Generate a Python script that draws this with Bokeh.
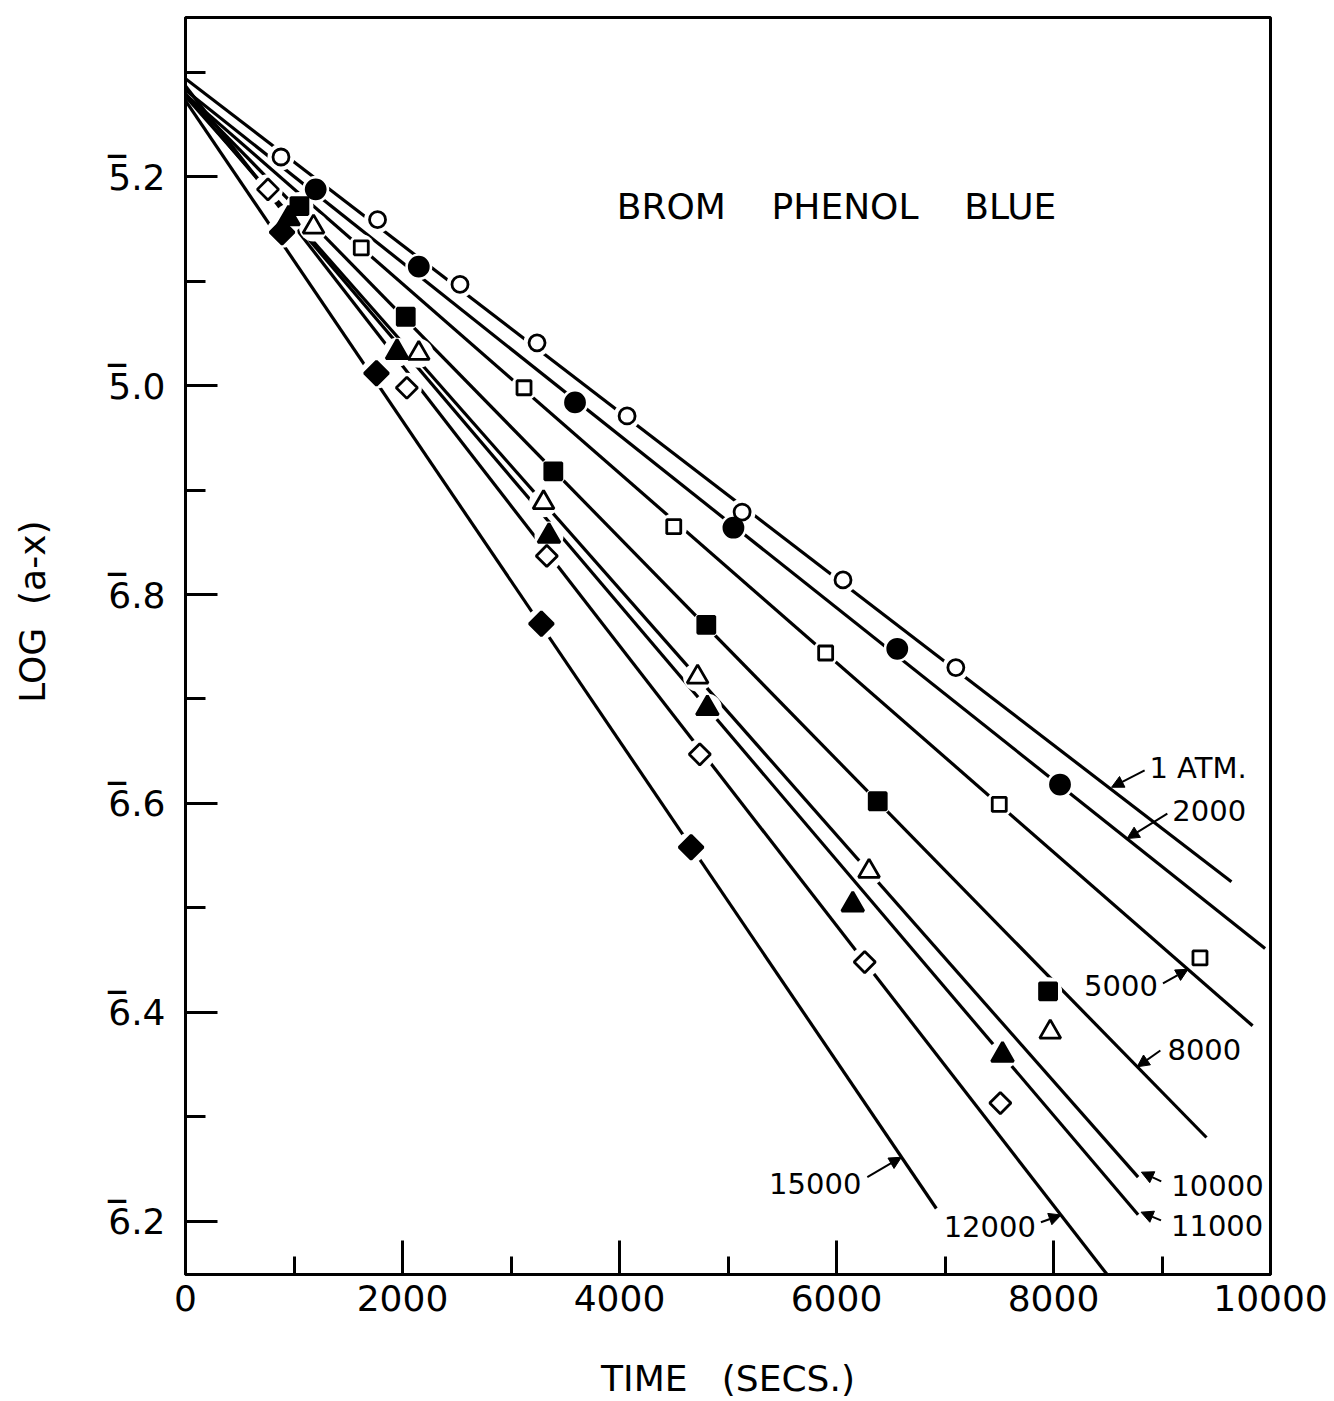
import math
from bokeh.plotting import figure
from bokeh.models import (ColumnDataSource, FixedTicker, CustomJSTickFormatter, Label,
                          Arrow, NormalHead, Range1d, BasicTickFormatter, LinearAxis)
from bokeh.embed import file_html
from bokeh.resources import INLINE
from bokeh.core.properties import value

# ---------------- data (time in s, log(a-x)) ----------------
atm1_t = [880, 1770, 2530, 3240, 4070, 5130, 6060, 7100]
atm1_y = [-4.781, -4.841, -4.903, -4.959, -5.029, -5.121, -5.186, -5.270]
p2000_t = [1200, 2150, 3590, 5050, 6560, 8060]
p2000_y = [-4.812, -4.886, -5.016, -5.136, -5.252, -5.382]
p5000_t = [1620, 3120, 4500, 5900, 7500, 9350]
p5000_y = [-4.868, -5.002, -5.135, -5.256, -5.401, -5.548]
p8000_t = [1050, 2030, 3390, 4800, 6380, 7950]
p8000_y = [-4.828, -4.934, -5.082, -5.229, -5.398, -5.580]
p10000_t = [1180, 2150, 3300, 4720, 6300, 7970]
p10000_y = [-4.848, -4.969, -5.112, -5.279, -5.465, -5.619]
p11000_t = [950, 1950, 3350, 4810, 6150, 7530]
p11000_y = [-4.840, -4.968, -5.144, -5.309, -5.497, -5.641]
p12000_t = [760, 2040, 3330, 4740, 6260, 7510]
p12000_y = [-4.812, -5.002, -5.163, -5.353, -5.552, -5.687]
p15000_t = [890, 1760, 3280, 4660]
p15000_y = [-4.853, -4.988, -5.228, -5.442]

# fitted straight lines (start at t=0)
line_names = ["1 ATM.", "2000", "5000", "8000", "10000", "11000", "12000", "15000"]
line_y0 = [-4.706, -4.717, -4.721, -4.721, -4.723, -4.721, -4.713, -4.727]
line_t1 = [9640, 9950, 9835, 9410, 8780, 8780, 8500, 6920]
line_y1 = [-5.475, -5.539, -5.613, -5.720, -5.758, -5.794, -5.852, -5.788]

# axis ticks (bar notation: 5-bar.2 = -4.8 ... 6-bar.2 = -5.8)
x_major = [0, 2000, 4000, 6000, 8000, 10000]
x_minor = [1000, 3000, 5000, 7000, 9000]
y_major = [-4.8, -5.0, -5.2, -5.4, -5.6, -5.8]
y_major_labels = ["5.2", "5.0", "6.8", "6.6", "6.4", "6.2"]
y_minor = [-4.7, -4.9, -5.1, -5.3, -5.5, -5.7]

# ---------------- layout of annotations ----------------
ann_tx = [8884, 9095, 8962, 9050, 9086, 9083, 7838, 6229]
ann_ty = [-5.366, -5.407, -5.574, -5.636, -5.766, -5.804, -5.805, -5.764]
ann_align = ["left", "left", "right", "left", "left", "left", "right", "right"]
arrow_x0 = [8840, 9049, 9009, 8985, 8993, 8991, 7884, 6284]
arrow_y0 = [-5.3685, -5.4099, -5.5725, -5.6367, -5.7620, -5.7994, -5.8012, -5.7579]
arrow_x1 = [8535, 8678, 9240, 8771, 8810, 8807, 8070, 6598]
arrow_y1 = [-5.3846, -5.4337, -5.5589, -5.6523, -5.7532, -5.7915, -5.7942, -5.7389]
BAR_SHIFT = 0.0225   # vertical offset (data units) of the characteristic's overbar

FONT = "DejaVu Sans"
NB = "\u00a0"

p = figure(width=1334, height=1401, x_range=Range1d(0, 10000),
           y_range=Range1d(-5.8512, -4.6474),
           output_backend="svg", toolbar_location=None,
           min_border_left=185, min_border_right=64,
           min_border_top=17, min_border_bottom=126)
p.background_fill_color = "white"
p.border_fill_color = "white"
p.outline_line_color = "black"
p.outline_line_width = 3
p.xgrid.visible = False
p.ygrid.visible = False

# axes
p.xaxis.ticker = FixedTicker(ticks=x_major, minor_ticks=x_minor)
p.xaxis.formatter = BasicTickFormatter(use_scientific=False)
p.yaxis.ticker = FixedTicker(ticks=y_major, minor_ticks=y_minor)
p.yaxis.formatter = CustomJSTickFormatter(
    args=dict(vals=y_major, labs=y_major_labels),
    code="""
    for (let i = 0; i < vals.length; i++) {
        if (Math.abs(vals[i] - tick) < 1e-6) { return labs[i]; }
    }
    return "";
    """)
for ax, maj, mnr in ((p.xaxis, 34, 18), (p.yaxis, 32, 20)):
    ax.axis_line_width = 3
    ax.axis_line_color = "black"
    ax.major_tick_in = maj
    ax.major_tick_out = 0
    ax.minor_tick_in = mnr
    ax.minor_tick_out = 0
    ax.major_tick_line_width = 3
    ax.minor_tick_line_width = 3
    ax.major_tick_line_color = "black"
    ax.minor_tick_line_color = "black"
    ax.major_label_text_font = FONT
    ax.major_label_text_font_size = "36px"
    ax.major_label_text_color = "black"
    ax.axis_label_text_font = FONT
    ax.axis_label_text_font_size = "36px"
    ax.axis_label_text_font_style = "normal"
    ax.axis_label_text_color = "black"
p.xaxis.major_label_standoff = 10
p.yaxis.major_label_standoff = 20
p.xaxis.axis_label = "TIME " + NB * 2 + "(SECS.)"
p.xaxis.axis_label_standoff = 44

# outer left axis: draws the bars over the characteristic digit, and the axis title
bar_axis = LinearAxis(
    ticker=FixedTicker(ticks=[v + BAR_SHIFT for v in y_major], minor_ticks=[]),
    formatter=CustomJSTickFormatter(code="return '\u2013';"),
    axis_line_color=None, major_tick_line_color=None, minor_tick_line_color=None,
    major_tick_in=0, major_tick_out=0, minor_tick_in=0, minor_tick_out=0,
    major_label_standoff=-23, major_label_text_font=FONT,
    major_label_text_font_size="46px", major_label_text_color="black",
    axis_label=NB * 6 + "LOG " + NB + "(a-x)", axis_label_standoff=50,
    axis_label_text_font=FONT, axis_label_text_font_size="36px",
    axis_label_text_font_style="normal", axis_label_text_color="black")
p.add_layout(bar_axis, "left")

# lines
lsrc = ColumnDataSource(dict(x0=[0] * len(line_t1), y0=line_y0, x1=line_t1, y1=line_y1))
p.segment(x0="x0", y0="y0", x1="x1", y1="y1", source=lsrc,
          line_color="black", line_width=3.2)

series = [
    (atm1_t, atm1_y, "circle", 16, "white", 0, 27),
    (p2000_t, p2000_y, "circle", 19, "black", 0, 27),
    (p5000_t, p5000_y, "square", 14, "white", 0, 27),
    (p8000_t, p8000_y, "square", 17, "black", 0, 28),
    (p10000_t, p10000_y, "triangle", 21, "white", 0, 29),
    (p11000_t, p11000_y, "triangle", 22, "black", 0, 29),
    (p12000_t, p12000_y, "square", 15, "white", math.pi / 4, 30),
    (p15000_t, p15000_y, "square", 17, "black", math.pi / 4, 31),
]
# white gaps in lines around markers
for t, y, mk, sz, fc, ang, halo in series:
    p.scatter(t, y, marker="circle", size=halo, fill_color="white", line_color=None)
for t, y, mk, sz, fc, ang, halo in series:
    p.scatter(t, y, marker=mk, size=sz, angle=ang, fill_color=fc,
              line_color="black", line_width=2.8)

# series labels with arrows
asrc = ColumnDataSource(dict(x=ann_tx, y=ann_ty, text=line_names, align=ann_align))
p.text(x="x", y="y", text="text", source=asrc, text_align="align",
       text_baseline="middle", text_font=value(FONT), text_font_size=value("29px"),
       text_color="black")
for xs, ys, xe, ye in zip(arrow_x0, arrow_y0, arrow_x1, arrow_y1):
    p.add_layout(Arrow(end=NormalHead(size=12, fill_color="black", line_color="black",
                                      line_width=1),
                       x_start=xs, y_start=ys, x_end=xe, y_end=ye,
                       line_color="black", line_width=2))

# title inside plot
p.add_layout(Label(x=6000, y=-4.828,
                   text="BROM " + NB * 3 + "PHENOL " + NB * 3 + "BLUE",
                   text_align="center", text_baseline="middle", text_font=FONT,
                   text_font_size="36px", text_color="black"))

open("out.html", "w").write(file_html(p, INLINE))
